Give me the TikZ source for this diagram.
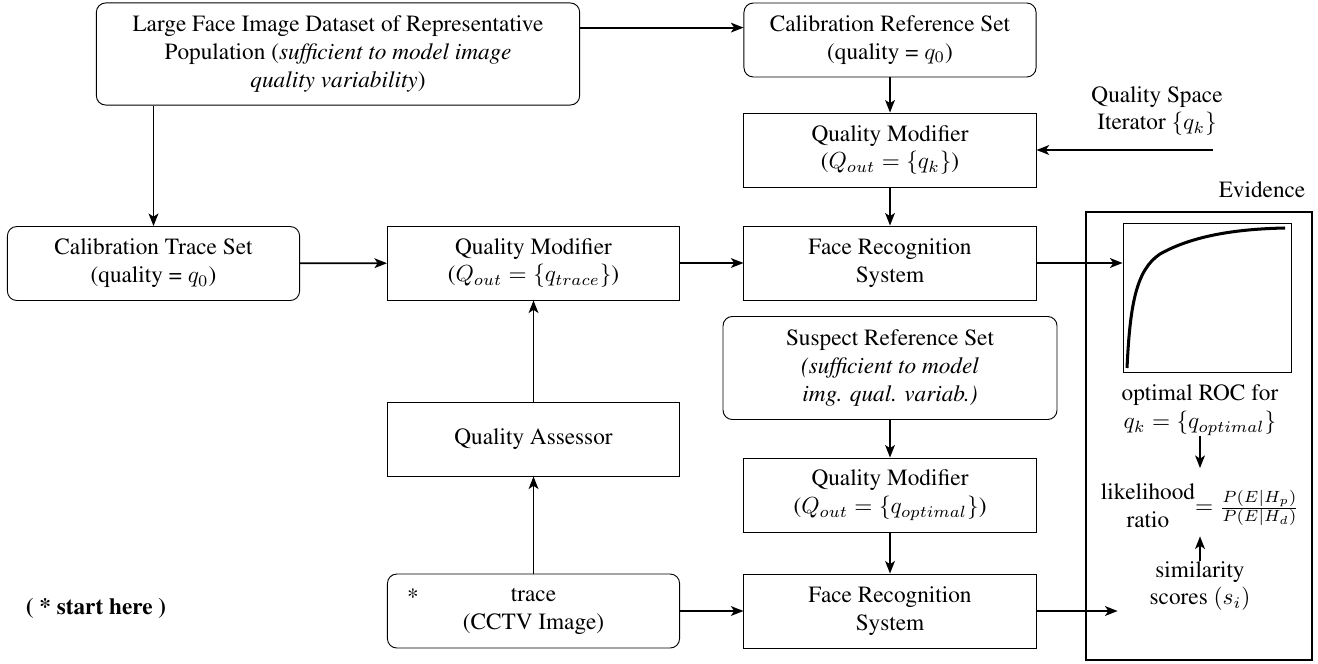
\documentclass[tikz,border=0pt]{standalone}
\usepackage[T1]{fontenc}
\usepackage{times}
\usetikzlibrary{arrows.meta}

\begin{document}
\begin{tikzpicture}[x=0.43pt, y=-0.43pt, >={Stealth[length=5.4pt, width=4.2pt, inset=1.4pt]}]
      \tikzstyle{block}=[draw, minimum width=125.6pt, minimum height=31.8pt, align=center, inner sep=2pt]
      \tikzstyle{dataset}=[block, rounded corners=4pt]
      \tikzstyle{flow}=[->, line width=0.8pt]
      \useasboundingbox (0,0) rectangle (1318,663);

      % draw blocks
      \node [dataset, minimum width=207.8pt, minimum height=43.9pt] (large) at (338,54)
        {Large Face Image Dataset of Representative\\Population (\textit{sufficient to model image}\\\textit{quality variability})};
      \node [dataset] (crs) at (890,40) {Calibration Reference Set\\(quality = $q_0$)};
      \node [block] (qmk) at (890,150) {Quality Modifier\\($Q_{out}=\{q_k\}$)};
      \node [block] (frs1) at (890,263) {Face Recognition\\System};
      \node [dataset, minimum width=143.6pt, minimum height=44.3pt] (srs) at (890,368)
        {Suspect Reference Set\\\textit{(sufficient to model}\\\textit{img. qual. variab.)}};
      \node [block] (qmopt) at (890,495) {Quality Modifier\\($Q_{out}=\{q_{optimal}\}$)};
      \node [block] (frs2) at (890,611) {Face Recognition\\System};

      \node [dataset] (cts) at (153.5,263.5) {Calibration Trace Set\\(quality = $q_0$)};
      \node [block] (qmtrace) at (533.5,263) {Quality Modifier\\($Q_{out}=\{q_{trace}\}$)};
      \node [block] (qa) at (533.5,439) {Quality Assessor};
      \node [dataset] (trace) at (533.5,611) {trace\\(CCTV Image)};
      \node (star) at (413,597) {*};
      \node [font=\bfseries] (start) at (96,608) {( * start here )};

      \node [align=center] (qsi) at (1157,111) {Quality Space\\Iterator $\{q_k\}$};
      \coordinate (qsi-out) at (1213,150);

      % draw evidence
      \node [draw, thick, minimum width=97.2pt, minimum height=192.6pt] (evid) at (1199,436) {};
      \node (evlabel) at (1262,190) {Evidence};
      \node [draw, minimum width=72.2pt, minimum height=64.1pt] (roc) at (1207,298) {};
      \draw [line width=1.3pt] (1127,368) .. controls (1130,305) and (1136,270) .. (1160,254)
                                          .. controls (1192,236) and (1235,229) .. (1285,228);
      \node [align=center, inner sep=0pt] (roccap) at (1200,410) {optimal ROC for\\$q_k=\{q_{optimal}\}$};
      \node [inner sep=0pt] (lr) at (1200,508) {\begin{tabular}{@{}c@{}}likelihood\\ratio\end{tabular}$=\frac{P(E|H_p)}{P(E|H_d)}$};
      \node [align=center, inner sep=0pt] (sim) at (1200,586) {similarity\\scores $(s_i)$};

      % draw lines
      \foreach \a/\b in {crs/qmk, qmk/frs1, srs/qmopt, qmopt/frs2, cts/qmtrace, qmtrace/frs1, trace/qa, qa/qmtrace, trace/frs2}
      \draw [flow] (\a) -- (\b);

      \draw [flow] ([yshift=-10.8pt]large.north east) -- ([yshift=-10.8pt]large.north east -| crs.west);
      \draw [flow] (cts.north |- large.south) -- (cts.north);
      \draw [flow] (qsi-out) -- (qsi-out -| qmk.east);
      \draw [flow] (frs1.east) -- (frs1.east -| roc.west);
      \draw [flow] (frs2.east) -- ([xshift=14pt]frs2.east -| evid.west);
      \draw [flow, shorten >=5pt] (roccap) -- (lr);
      \draw [flow] (sim) -- (lr);

\end{tikzpicture}
\end{document}
